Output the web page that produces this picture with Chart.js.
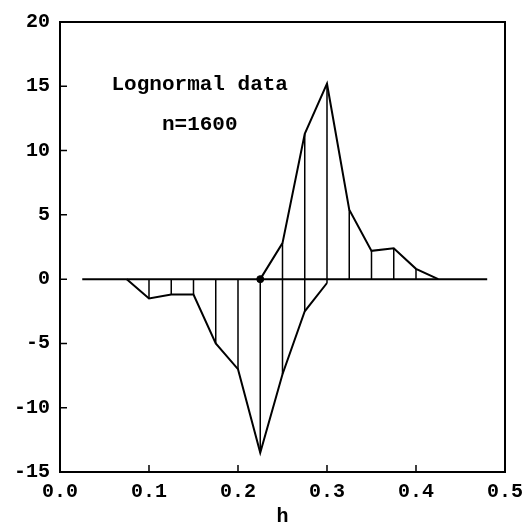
<!DOCTYPE html>
<html>
<head>
<meta charset="utf-8">
<script src="https://cdn.jsdelivr.net/npm/chart.js@4.4.1/dist/chart.umd.min.js"></script>
<style>
  html, body { margin: 0; padding: 0; background: #fff; }
  #wrap { width: 531px; height: 527px; }
</style>
</head>
<body>
<div id="wrap"><canvas id="myChart" width="531" height="527"></canvas></div>
<script>
// values
const hNeg = [0.075, 0.1, 0.125, 0.15, 0.175, 0.2, 0.225, 0.25, 0.275, 0.3];
const negValues = [0, -1.5, -1.2, -1.2, -5.0, -7.0, -13.5, -7.4, -2.5, -0.3];
const hPos = [0.225, 0.25, 0.275, 0.3, 0.325, 0.35, 0.375, 0.4, 0.425];
const posValues = [0, 2.8, 11.3, 15.2, 5.4, 2.2, 2.4, 0.8, 0];
const hZero = [0.025, 0.48];
const markerH = [0.225];
const xTicks = ['0.0', '0.1', '0.2', '0.3', '0.4', '0.5'];
const yTicks = ['-15', '-10', '-5', '0', '5', '10', '15', '20'];
const label1 = 'Lognormal data';
const label2 = 'n=1600';

const FONT = "'Liberation Mono', 'DejaVu Sans Mono', monospace";

// vertical hatch lines between the two curves at every sample
const hatch = [];
const allH = [...new Set([...hNeg, ...hPos])].sort((a, b) => a - b);
allH.forEach(h => {
  const ni = hNeg.indexOf(h), pi = hPos.indexOf(h);
  const lo = ni >= 0 ? negValues[ni] : 0;
  const hi = pi >= 0 ? posValues[pi] : 0;
  if (lo === 0 && hi === 0) return;
  hatch.push({x: h, y: lo}, {x: h, y: hi}, {x: h, y: null});
});

const frameTicks = {
  id: 'frameTicks',
  afterDraw(chart) {
    const ctx = chart.ctx, a = chart.chartArea;
    const xs = chart.scales.x, ys = chart.scales.y;
    ctx.save();
    ctx.strokeStyle = '#000';
    ctx.lineWidth = 2;
    ctx.strokeRect(a.left, a.top, a.right - a.left, a.bottom - a.top);
    ctx.lineWidth = 1.5;
    ctx.beginPath();
    xTicks.forEach(t => {
      const px = xs.getPixelForValue(parseFloat(t));
      ctx.moveTo(px, a.bottom); ctx.lineTo(px, a.bottom - 7);
    });
    yTicks.forEach(t => {
      const py = ys.getPixelForValue(parseFloat(t));
      ctx.moveTo(a.left, py); ctx.lineTo(a.left + 7, py);
    });
    ctx.stroke();
    ctx.fillStyle = '#000';
    ctx.font = 'bold 21px ' + FONT;
    ctx.textAlign = 'center';
    ctx.textBaseline = 'middle';
    ctx.fillText(label1, xs.getPixelForValue(0.157), ys.getPixelForValue(15.1));
    ctx.fillText(label2, xs.getPixelForValue(0.157), ys.getPixelForValue(12.0));
    ctx.restore();
  }
};

new Chart('myChart', {
  type: 'line',
  data: {
    datasets: [{
      data: hZero.map(h => ({x: h, y: 0})),
      borderColor: '#000', borderWidth: 2, pointRadius: 0
    }, {
      data: hatch,
      borderColor: '#000', borderWidth: 1.5, pointRadius: 0, spanGaps: false
    }, {
      data: hNeg.map((h, i) => ({x: h, y: negValues[i]})),
      borderColor: '#000', borderWidth: 2, pointRadius: 0
    }, {
      data: hPos.map((h, i) => ({x: h, y: posValues[i]})),
      borderColor: '#000', borderWidth: 2, pointRadius: 0
    }, {
      data: markerH.map(h => ({x: h, y: 0})),
      showLine: false, pointRadius: 3.5, pointBackgroundColor: '#000', pointBorderColor: '#000'
    }]
  },
  options: {
    responsive: false,
    animation: false,
    devicePixelRatio: 1,
    layout: {padding: {top: 17, right: 25, left: 0, bottom: 0}},
    plugins: {legend: {display: false}, tooltip: {enabled: false}},
    scales: {
      x: {
        type: 'linear', min: 0, max: 0.5,
        afterBuildTicks: s => { s.ticks = xTicks.map(t => ({value: parseFloat(t)})); },
        afterFit: s => { s.height = 55; },
        grid: {display: false, drawTicks: false},
        border: {display: false},
        ticks: {
          color: '#000', padding: 8,
          font: {family: FONT, size: 20, weight: 'bold'},
          callback: v => v.toFixed(1)
        },
        title: {
          display: true, text: 'h', color: '#000', padding: {top: 0, bottom: 0},
          font: {family: FONT, size: 20, weight: 'bold', lineHeight: 1.0}
        }
      },
      y: {
        type: 'linear', min: -15, max: 20,
        afterBuildTicks: s => { s.ticks = yTicks.map(t => ({value: parseFloat(t)})); },
        afterFit: s => { s.width = 60; },
        grid: {display: false, drawTicks: false},
        border: {display: false},
        ticks: {
          color: '#000', padding: 10,
          font: {family: FONT, size: 20, weight: 'bold'},
          callback: v => String(v)
        }
      }
    }
  },
  plugins: [frameTicks]
});
</script>
</body>
</html>
